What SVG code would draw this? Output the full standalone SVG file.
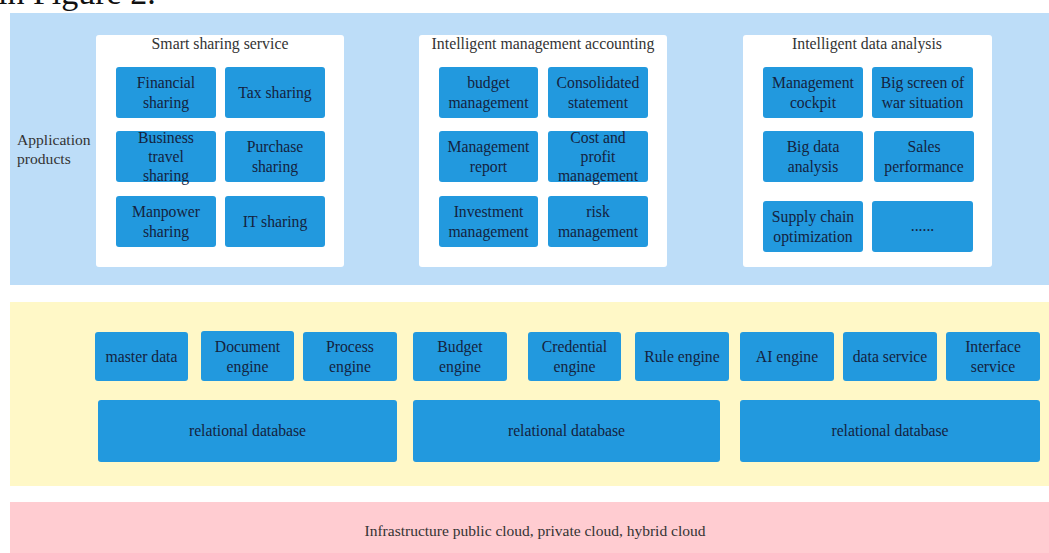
<svg xmlns="http://www.w3.org/2000/svg" width="1049" height="553" viewBox="0 0 1049 553">
<style>
  text { font-family: "Liberation Serif", "Times New Roman", "DejaVu Serif", serif; }
  .band-blue { fill: #BDDDF8; }
  .band-yellow { fill: #FFF8C7; }
  .band-pink { fill: #FFCCD1; }
  .panel { fill: #FFFFFF; }
  .box { fill: #2299DE; }
  .lbl { font-size: 15.7px; fill: #14233F; text-anchor: middle; }
  .title { font-size: 15.8px; fill: #333333; text-anchor: middle; }
  .side { font-size: 15.6px; fill: #333333; }
  .infra { font-size: 15.5px; fill: #333333; text-anchor: middle; }
  .cap { font-size: 34px; fill: #111111; }
</style>
<rect width="1049" height="553" fill="#FFFFFF"/>
<text class="cap" x="-2" y="4">in Figure 2.</text>

<g id="layer-application">
  <rect class="band-blue" x="10" y="13" width="1039" height="272"/>
  <text class="side" x="17" y="145">Application</text>
  <text class="side" x="17" y="164">products</text>
</g>

<g id="panel-smart-sharing">
  <rect class="panel" x="96" y="35" width="248" height="232" rx="3"/>
  <text class="title" x="220" y="49">Smart sharing service</text>
</g>
<g id="n-financial-sharing"><rect class="box" x="116" y="67" width="100" height="51" rx="3"/><text class="lbl" x="166" y="87.5">Financial</text><text class="lbl" x="166" y="107.5">sharing</text></g>
<g id="n-tax-sharing"><rect class="box" x="225" y="67" width="100" height="51" rx="3"/><text class="lbl" x="275" y="97.5">Tax sharing</text></g>
<g id="n-business-travel"><rect class="box" x="116" y="131" width="100" height="51" rx="3"/><text class="lbl" x="166" y="143">Business</text><text class="lbl" x="166" y="162">travel</text><text class="lbl" x="166" y="181">sharing</text></g>
<g id="n-purchase-sharing"><rect class="box" x="225" y="131" width="100" height="51" rx="3"/><text class="lbl" x="275" y="151.5">Purchase</text><text class="lbl" x="275" y="171.5">sharing</text></g>
<g id="n-manpower-sharing"><rect class="box" x="116" y="196" width="100" height="51" rx="3"/><text class="lbl" x="166" y="216.5">Manpower</text><text class="lbl" x="166" y="236.5">sharing</text></g>
<g id="n-it-sharing"><rect class="box" x="225" y="196" width="100" height="51" rx="3"/><text class="lbl" x="275" y="226.5">IT sharing</text></g>

<g id="panel-management-accounting">
  <rect class="panel" x="419" y="35" width="248" height="232" rx="3"/>
  <text class="title" x="543" y="49">Intelligent management accounting</text>
</g>
<g id="n-budget-management"><rect class="box" x="439" y="67" width="99" height="51" rx="3"/><text class="lbl" x="488.5" y="87.5">budget</text><text class="lbl" x="488.5" y="107.5">management</text></g>
<g id="n-consolidated-statement"><rect class="box" x="548" y="67" width="100" height="51" rx="3"/><text class="lbl" x="598" y="87.5">Consolidated</text><text class="lbl" x="598" y="107.5">statement</text></g>
<g id="n-management-report"><rect class="box" x="439" y="131" width="99" height="51" rx="3"/><text class="lbl" x="488.5" y="151.5">Management</text><text class="lbl" x="488.5" y="171.5">report</text></g>
<g id="n-cost-profit"><rect class="box" x="548" y="131" width="100" height="51" rx="3"/><text class="lbl" x="598" y="143">Cost and</text><text class="lbl" x="598" y="162">profit</text><text class="lbl" x="598" y="181">management</text></g>
<g id="n-investment-management"><rect class="box" x="439" y="196" width="99" height="51" rx="3"/><text class="lbl" x="488.5" y="216.5">Investment</text><text class="lbl" x="488.5" y="236.5">management</text></g>
<g id="n-risk-management"><rect class="box" x="548" y="196" width="100" height="51" rx="3"/><text class="lbl" x="598" y="216.5">risk</text><text class="lbl" x="598" y="236.5">management</text></g>

<g id="panel-data-analysis">
  <rect class="panel" x="743" y="35" width="249" height="232" rx="3"/>
  <text class="title" x="867" y="49">Intelligent data analysis</text>
</g>
<g id="n-management-cockpit"><rect class="box" x="763" y="67" width="100" height="51" rx="3"/><text class="lbl" x="813" y="87.5">Management</text><text class="lbl" x="813" y="107.5">cockpit</text></g>
<g id="n-big-screen"><rect class="box" x="872" y="67" width="101" height="51" rx="3"/><text class="lbl" x="922.5" y="87.5">Big screen of</text><text class="lbl" x="922.5" y="107.5">war situation</text></g>
<g id="n-big-data-analysis"><rect class="box" x="763" y="131" width="100" height="51" rx="3"/><text class="lbl" x="813" y="151.5">Big data</text><text class="lbl" x="813" y="171.5">analysis</text></g>
<g id="n-sales-performance"><rect class="box" x="874" y="131" width="100" height="51" rx="3"/><text class="lbl" x="924" y="151.5">Sales</text><text class="lbl" x="924" y="171.5">performance</text></g>
<g id="n-supply-chain"><rect class="box" x="763" y="201" width="100" height="51" rx="3"/><text class="lbl" x="813" y="221.5">Supply chain</text><text class="lbl" x="813" y="241.5">optimization</text></g>
<g id="n-more"><rect class="box" x="872" y="201" width="101" height="51" rx="3"/><text class="lbl" x="922.5" y="231">......</text></g>

<g id="layer-platform">
  <rect class="band-yellow" x="10" y="302" width="1039" height="184"/>
</g>
<g id="n-master-data"><rect class="box" x="95" y="332" width="93" height="49" rx="3"/><text class="lbl" x="141.5" y="361.5">master data</text></g>
<g id="n-document-engine"><rect class="box" x="201" y="331" width="93" height="50" rx="3"/><text class="lbl" x="247.5" y="351.5">Document</text><text class="lbl" x="247.5" y="371.5">engine</text></g>
<g id="n-process-engine"><rect class="box" x="303" y="332" width="94" height="49" rx="3"/><text class="lbl" x="350" y="351.5">Process</text><text class="lbl" x="350" y="371.5">engine</text></g>
<g id="n-budget-engine"><rect class="box" x="413" y="332" width="94" height="49" rx="3"/><text class="lbl" x="460" y="351.5">Budget</text><text class="lbl" x="460" y="371.5">engine</text></g>
<g id="n-credential-engine"><rect class="box" x="528" y="332" width="93" height="49" rx="3"/><text class="lbl" x="574.5" y="351.5">Credential</text><text class="lbl" x="574.5" y="371.5">engine</text></g>
<g id="n-rule-engine"><rect class="box" x="635" y="332" width="94" height="49" rx="3"/><text class="lbl" x="682" y="361.5">Rule engine</text></g>
<g id="n-ai-engine"><rect class="box" x="740" y="332" width="94" height="49" rx="3"/><text class="lbl" x="787" y="361.5">AI engine</text></g>
<g id="n-data-service"><rect class="box" x="843" y="332" width="94" height="49" rx="3"/><text class="lbl" x="890" y="361.5">data service</text></g>
<g id="n-interface-service"><rect class="box" x="946" y="332" width="94" height="49" rx="3"/><text class="lbl" x="993" y="351.5">Interface</text><text class="lbl" x="993" y="371.5">service</text></g>
<g id="n-relational-db-1"><rect class="box" x="98" y="400" width="299" height="62" rx="3"/><text class="lbl" x="247.5" y="436">relational database</text></g>
<g id="n-relational-db-2"><rect class="box" x="413" y="400" width="307" height="62" rx="3"/><text class="lbl" x="566.5" y="436">relational database</text></g>
<g id="n-relational-db-3"><rect class="box" x="740" y="400" width="300" height="62" rx="3"/><text class="lbl" x="890" y="436">relational database</text></g>

<g id="layer-infrastructure">
  <rect class="band-pink" x="10" y="502" width="1039" height="51"/>
  <text class="infra" x="535" y="536">Infrastructure public cloud, private cloud, hybrid cloud</text>
</g>

<g id="connectors"></g>
</svg>
